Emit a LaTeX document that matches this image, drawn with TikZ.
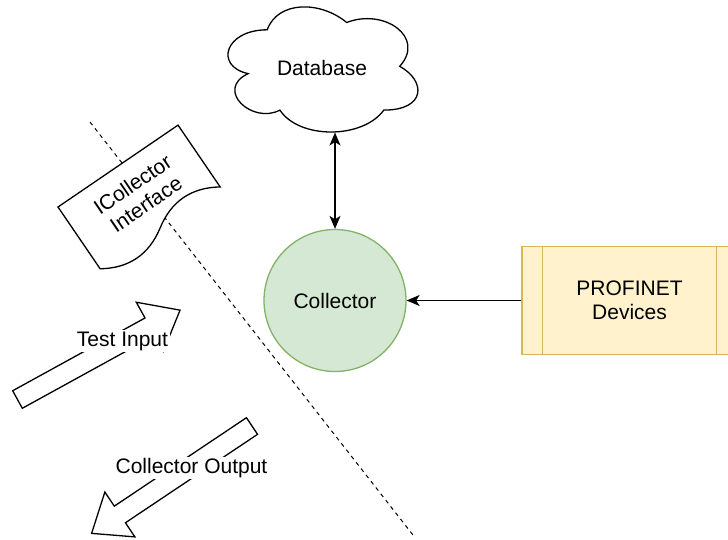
\documentclass[tikz,border=0pt]{standalone}
\usepackage{fontspec}
\setmainfont{Liberation Sans}
\usetikzlibrary{arrows.meta}
\definecolor{grnfill}{HTML}{D5E8D4}
\definecolor{grnline}{HTML}{82B366}
\definecolor{yelfill}{HTML}{FFF2CC}
\definecolor{yelline}{HTML}{D6B656}
\begin{document}
\begin{tikzpicture}[x=1pt,y=-1pt,line width=1.3pt,
  >={Stealth[length=13pt,width=11pt,inset=3.5pt]},
  every node/.style={font=\fontsize{21}{24}\selectfont, align=center, inner sep=0pt},
  blk/.style={draw=black, fill=white, line width=1.3pt},
  lbl/.style={fill=white, inner sep=1.5pt},
  sep/.style={draw=black, line width=1pt, dash pattern=on 4pt off 4pt}]
\useasboundingbox (0,0) rectangle (728,539);
\clip (0,0) rectangle (728,539);
\fill[white] (0,0) rectangle (728,539);

% dashed separator
\coordinate (dA) at (90,122);
\coordinate (dB) at (413,535);
\draw[sep] (dA) -- (dB);

% cloud
\begin{scope}[shift={(214.2,-6.7)}, x=212pt, y=-146pt]
  \draw[fill=white] (0.25,0.25) .. controls (0.05,0.25) and (0,0.5) .. (0.16,0.55)
    .. controls (0,0.66) and (0.18,0.9) .. (0.31,0.8)
    .. controls (0.4,1) and (0.7,1) .. (0.8,0.8)
    .. controls (1,0.8) and (1,0.6) .. (0.875,0.5)
    .. controls (1,0.3) and (0.8,0.1) .. (0.625,0.2)
    .. controls (0.5,0.05) and (0.3,0.05) .. (0.25,0.25) -- cycle;
\end{scope}
\node (db) at (322,68) {Database};
\coordinate (dbb) at (335,132.5);

% collector
\node[circle, draw=grnline, fill=grnfill, minimum size=142pt] (col) at (335,300.5) {Collector};
\draw[<->] (dbb) -- (col.north);

% profinet devices
\node[draw=yelline, fill=yelfill, minimum width=215pt, minimum height=108pt] (prof) at (629.5,300.5) {PROFINET\\Devices};
\draw[yelline] ([xshift=21pt]prof.north west) -- ([xshift=21pt]prof.south west);
\draw[yelline] ([xshift=-21pt]prof.north east) -- ([xshift=-21pt]prof.south east);
\draw[->] (prof.west) -- (col.east);

% ICollector interface document
\begin{scope}[shift={(58,207)}, rotate=34.3]
  \draw[fill=white] (0,0) -- (145.3,0) -- (145.3,74.8)
    .. controls (121.09,58.96) and (96.87,58.96) .. (72.65,74.8)
    .. controls (48.44,90.64) and (24.22,90.64) .. (0,74.8) -- cycle;
  \node[rotate=34.3] (iface) at (74.3,35.2) {ICollector\\Interface};
\end{scope}

% Test Input block arrow
\begin{scope}[shift={(17.5,399.5)}, rotate=28.8]
  \draw[blk] (0,-10) -- (151,-10) -- (151,-28) -- (185.5,0) -- (151,28) -- (151,10) -- (0,10) -- cycle;
\end{scope}
\node[lbl] (tin) at (122.5,341) {Test Input};

% Collector Output block arrow
\begin{scope}[shift={(252,426)}, rotate=213.8]
  \draw[blk] (0,-10) -- (159,-10) -- (159,-27) -- (193,0) -- (159,27) -- (159,10) -- (0,10) -- cycle;
\end{scope}
\node[lbl] (cout) at (191.5,468) {Collector Output};
\end{tikzpicture}
\end{document}
